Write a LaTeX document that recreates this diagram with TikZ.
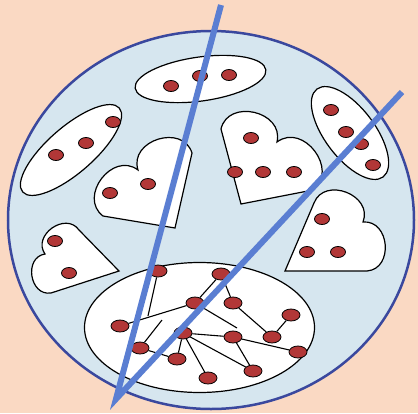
\documentclass[tikz,border=0pt]{standalone}
\usetikzlibrary{shapes.geometric,calc}
\definecolor{bgpeach}{RGB}{250,217,195}
\definecolor{discblue}{RGB}{214,230,239}
\definecolor{rimblue}{RGB}{58,72,158}
\definecolor{cutblue}{RGB}{90,126,210}
\definecolor{dotred}{RGB}{178,55,55}
\tikzset{
 shapeline/.style={draw=black, line width=1.2pt, fill=white},
 dot/.style={ellipse, draw=black, line width=0.8pt, fill=dotred, minimum width=15pt, minimum height=11pt, inner sep=0pt},
 netdot/.style={dot, minimum width=18pt, minimum height=12pt},
 link/.style={draw=black, line width=1.1pt},
 cut/.style={draw=cutblue, line width=6pt, line join=miter},
}
\newcommand{\hrt}[4]{\draw[shapeline] (#1) -- (#2) .. controls ($(#2)!0.55!90:(#3)$) and ($(#3)!0.55!-90:(#2)$) .. (#3) .. controls ($(#3)!0.55!90:(#4)$) and ($(#4)!0.55!-90:(#3)$) .. (#4) -- cycle;}
\begin{document}
\begin{tikzpicture}[x=1pt,y=-1pt]
\useasboundingbox (0,0) rectangle (418,413);
\fill[bgpeach] (0,0) rectangle (418,413);
\draw[rimblue, line width=2.5pt, fill=discblue] (211,220) ellipse [x radius=203, y radius=189];
% ellipses
\draw[shapeline, rotate around={8:(200.5,79)}] (200.5,79) ellipse [x radius=66, y radius=22];
\draw[shapeline, rotate around={41:(71,150)}] (71,150) ellipse [x radius=64, y radius=23];
\draw[shapeline, rotate around={-53:(350,133)}] (350,133) ellipse [x radius=55, y radius=25];
\draw[shapeline] (199.5,327.5) ellipse [x radius=115, y radius=65];
% hearts (tip, lobe start, dip, lobe end)
\hrt{175,228}{103,216}{138,170}{192,153}
\hrt{241,204}{221,129}{277,142}{313,190}
\hrt{285,271}{314,203}{363,222}{367,271}
\hrt{119,271}{51,293}{45,254}{79,230}
% network
\node[netdot] (n1) at (158,271) {};
\node[netdot] (n2) at (221,274) {};
\node[netdot] (n3) at (195,303) {};
\node[netdot] (n4) at (233,303) {};
\node[netdot] (n5) at (291,315) {};
\node[netdot] (n6) at (120,326) {};
\node[netdot] (n7) at (183,333) {};
\node[netdot] (n8) at (233,337) {};
\node[netdot] (n9) at (272,337) {};
\node[netdot] (n10) at (298,352) {};
\node[netdot] (n11) at (140,348) {};
\node[netdot] (n12) at (177,359) {};
\node[netdot] (n13) at (253,371) {};
\node[netdot] (n14) at (208,378) {};
\coordinate (s1) at (148,316);
\coordinate (s2) at (162,320);
\coordinate (s3) at (237,328);
\path[link] (n1) -- (s1);
\path[link] (n6) -- (n3);
\path[link] (n2) -- (n3);
\path[link] (n2) -- (n4);
\path[link] (n3) -- (s3);
\path[link] (n4) -- (n9);
\path[link] (n5) -- (n9);
\path[link] (n7) -- (n8);
\path[link] (n7) -- (n13);
\path[link] (n7) -- (n14);
\path[link] (n7) -- (n12);
\path[link] (n8) -- (n10);
\path[link] (n8) -- (n13);
\path[link] (n11) -- (n12);
\path[link] (n11) -- (s2);
% dots in ellipses and hearts
\node[dot] (t1) at (171,86) {};
\node[dot] (t2) at (200,76) {};
\node[dot] (t3) at (229,75) {};
\node[dot] (l1) at (56,155) {};
\node[dot] (l2) at (86,143) {};
\node[dot] (l3) at (113,122) {};
\node[dot] (ha1) at (110,193) {};
\node[dot] (ha2) at (148,184) {};
\node[dot] (hb1) at (251,138) {};
\node[dot] (hb2) at (235,172) {};
\node[dot] (hb3) at (263,172) {};
\node[dot] (hb4) at (294,172) {};
\node[dot] (r1) at (331,110) {};
\node[dot] (r2) at (346,132) {};
\node[dot] (r3) at (361,144) {};
\node[dot] (r4) at (373,165) {};
\node[dot] (hc1) at (322,219) {};
\node[dot] (hc2) at (307,252) {};
\node[dot] (hc3) at (338,252) {};
\node[dot] (hd1) at (55,241) {};
\node[dot] (hd2) at (69,273) {};
% cut lines
\coordinate (vtop1) at (221,5);
\coordinate (vbot) at (116,399);
\coordinate (vtop2) at (402,92);
\draw[cut] (vtop1) -- (vbot) -- (vtop2);
\end{tikzpicture}
\end{document}
